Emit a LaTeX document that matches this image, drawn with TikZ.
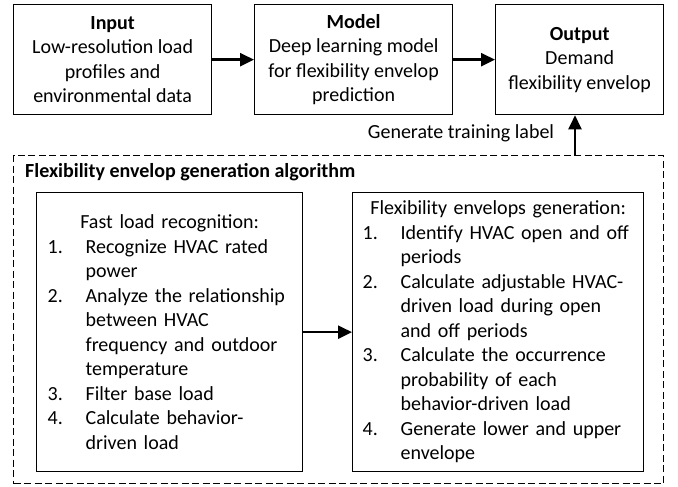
\documentclass[tikz,border=0pt]{standalone}
\usepackage{fontspec}
\setmainfont{Carlito}
\usetikzlibrary{arrows.meta,calc}
\newcommand{\itemnum}[1]{\makebox[38pt][l]{#1}}
\newcommand{\itemcont}{\hspace*{38pt}}
\tikzset{
  txt/.style={font=\fontsize{20}{24.5}\selectfont},
  box/.style={draw, line width=1.3pt, inner sep=0pt, txt, anchor=north west},
  algbox/.style={draw, line width=1.3pt, dash pattern=on 7pt off 3.5pt, inner sep=0pt, anchor=north west},
  arr/.style={line width=2.5pt, -{Triangle[length=14pt,width=13pt]}},
}
\begin{document}
\begin{tikzpicture}[x=1pt,y=-1pt]
\useasboundingbox (0,0) rectangle (678,487);
% top row
\node[box, minimum width=198, minimum height=110, align=center] (in) at (13,4)
  {\textbf{Input}\\Low-resolution load\\profiles and\\environmental data};
\node[box, minimum width=198, minimum height=110, align=center] (model) at (254,4)
  {\textbf{Model}\\Deep learning model\\for flexibility envelop\\prediction};
\node[box, minimum width=168, minimum height=110, align=center] (out) at (495,4)
  {\textbf{Output}\\Demand\\flexibility envelop};
\draw[arr] (in.east) -- (model.west);
\draw[arr] (model.east) -- (out.west);
% algorithm frame
\node[algbox, minimum width=650, minimum height=328] (alg) at (13,155) {};
\coordinate (up) at (575,155);
\draw[arr] (up) -- (up |- out.south);
\node[txt, inner sep=0pt] (lbl) at (461,133) {Generate training label};
\node[txt, inner sep=0pt, anchor=base west] (title) at (25,177) {\textbf{Flexibility envelop generation algorithm}};
% inner boxes
\node[box, minimum height=279, text width=244, inner xsep=11pt, align=left] (fast) at (36,192)
  {\makebox[244pt]{Fast load recognition:}\\
   \itemnum{1.}Recognize HVAC rated\\
   \itemcont power\\
   \itemnum{2.}Analyze the relationship\\
   \itemcont between HVAC\\
   \itemcont frequency and outdoor\\
   \itemcont temperature\\
   \itemnum{3.}Filter base load\\
   \itemnum{4.}Calculate behavior-\\
   \itemcont driven load};
\node[box, minimum height=279, text width=271, inner xsep=10pt, align=left] (flex) at (352,192)
  {\makebox[271pt]{Flexibility envelops generation:}\\
   \itemnum{1.}Identify HVAC open and off\\
   \itemcont periods\\
   \itemnum{2.}Calculate adjustable HVAC-\\
   \itemcont driven load during open\\
   \itemcont and off periods\\
   \itemnum{3.}Calculate the occurrence\\
   \itemcont probability of each\\
   \itemcont behavior-driven load\\
   \itemnum{4.}Generate lower and upper\\
   \itemcont envelope};
\draw[arr] (fast.east) -- (flex.west);
\end{tikzpicture}
\end{document}
